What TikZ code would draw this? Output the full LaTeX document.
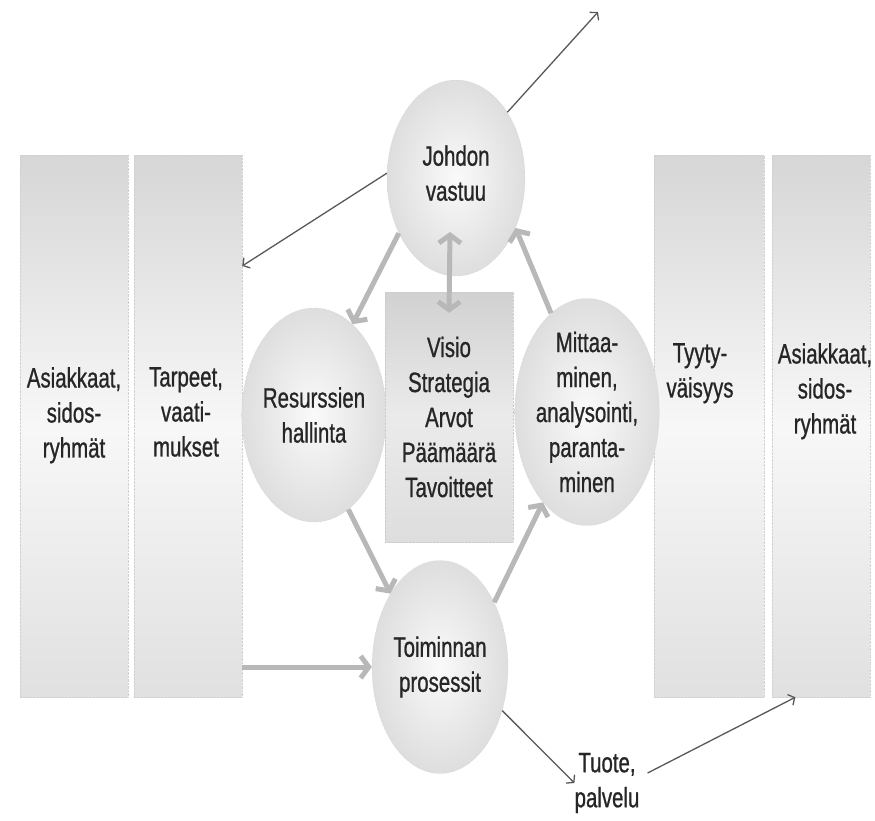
\documentclass[tikz,border=0pt]{standalone}
\usepackage{fontspec}
\setmainfont{Liberation Sans}[FakeStretch=0.73, FakeBold=0.8]
\usetikzlibrary{calc}
\usetikzlibrary{positioning}
\usetikzlibrary{shapes.geometric}
\usetikzlibrary{arrows.meta}

\begin{document}
\begin{tikzpicture}[
	x=1pt, y=-1pt,
	Gb/.tip = {Straight Barb[length=8pt, width=22pt]},
	Tb/.tip = {Straight Barb[length=5pt, width=12pt]},
	txt/.style = {font=\fontsize{28}{35}\selectfont, text=black!85, align=center, inner sep=0pt},
	bar/.style = {rectangle, draw=black!18, densely dotted, top color=black!16, bottom color=black!12, middle color=black!3, minimum width=108pt, minimum height=542pt, inner sep=0pt},
	ell/.style = {ellipse, txt, draw=black!20, densely dotted, inner color=black!2, outer color=black!13, minimum width=138pt, minimum height=212pt},
	box/.style = {rectangle, txt, draw=black!20, densely dotted, top color=black!18, bottom color=black!13, middle color=black!8, minimum width=128pt, minimum height=250pt},
	gr/.style = {draw=black!28, line width=5pt, -Gb},
	thin/.style = {draw=black!65, line width=1.3pt, -Tb}
	]
	
	\fill[white] (0,0) rectangle (875,820);
	\useasboundingbox (0,0) rectangle (875,820);
	
	% === === Bars === ===
	\node[bar]	(b1)	at	(74, 426)	{};
	\node[bar]	(b2)	at	(188, 426)	{};
	\node[bar, minimum width=110pt]	(b3)	at	(709, 426)	{};
	\node[bar, minimum width=98pt]	(b4)	at	(821, 426)	{};
	
	\node[txt, anchor=north]	(t1)	at	(74, 367)	{Asiakkaat,\\sidos-\\ryhmät};
	\node[txt, anchor=north]	(t2)	at	(186, 367)	{Tarpeet,\\vaati-\\mukset};
	\node[txt, anchor=north]	(t3)	at	(700, 343)	{Tyyty-\\väisyys};
	\node[txt, anchor=north]	(t4)	at	(825, 343)	{Asiakkaat,\\sidos-\\ryhmät};
	
	% === === Nodes === ===
	\node[ell, minimum height=196pt, text depth=10pt]	(johto)	at	(456, 178)	{Johdon\\vastuu};
	\node[ell, minimum height=214pt]	(res)	at	(314, 415)	{Resurssien\\hallinta};
	\node[ell, minimum width=130pt, minimum height=211pt]	(mit)	at	(587, 412)	{Mittaa-\\minen,\\analysointi,\\paranta-\\minen};
	\node[ell, minimum width=136pt, minimum height=213pt]	(proc)	at	(440, 667)	{Toiminnan\\prosessit};
	\node[box]	(visio)	at	(449, 417)	{Visio\\Strategia\\Arvot\\Päämäärä\\Tavoitteet};
	
	\node[txt]	(tuote)	at	(607, 783)	{Tuote,\\palvelu};
	\coordinate	(up)	at	(598, 12);
	
	% === === Lines === ===
	\draw[thin]	(johto.52)	--	(up);
	\draw[thin]	(johto.176)	--	($(b2.north east)!0.205!(b2.south east)$);
	\draw[thin]	(proc.-35)	--	(tuote.west);
	\draw[thin]	([xshift=8pt, yshift=10pt]tuote.east)	--	($(b4.south west)!0.24!(b4.south east)$);
	
	\draw[gr]	(johto.-136)	--	(res.67);
	\draw[gr, Gb-Gb]	([xshift=-6pt, yshift=-54pt]johto.center)	--	([yshift=-21pt]visio.north);
	\draw[gr]	(mit.110)	--	(johto.-40);
	\draw[gr]	(res.-70)	--	(proc.124);
	\draw[gr]	(proc.50)	--	(mit.-116);
	\draw[gr]	(b2.east |- proc.west)	--	(proc.west);
	
\end{tikzpicture}
\end{document}
